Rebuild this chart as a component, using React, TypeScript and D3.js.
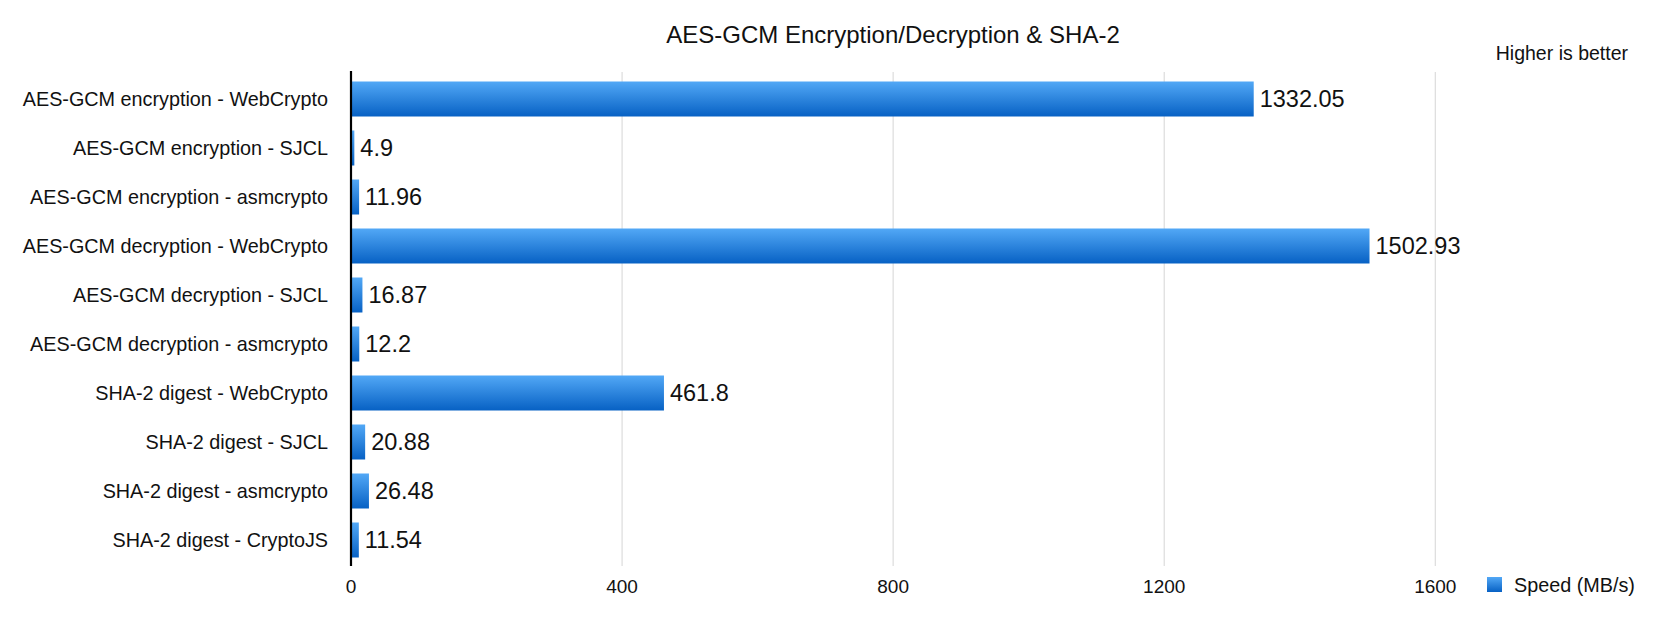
import React from "react";
import * as d3 from "d3";

const categories = [
  "AES-GCM encryption - WebCrypto",
  "AES-GCM encryption - SJCL",
  "AES-GCM encryption - asmcrypto",
  "AES-GCM decryption - WebCrypto",
  "AES-GCM decryption - SJCL",
  "AES-GCM decryption - asmcrypto",
  "SHA-2 digest - WebCrypto",
  "SHA-2 digest - SJCL",
  "SHA-2 digest - asmcrypto",
  "SHA-2 digest - CryptoJS",
];
const speeds = [1332.05, 4.9, 11.96, 1502.93, 16.87, 12.2, 461.8, 20.88, 26.48, 11.54];
const xTicks = [0, 400, 800, 1200, 1600];
const title = "AES-GCM Encryption/Decryption & SHA-2";
const subtitle = "Higher is better";
const seriesName = "Speed (MB/s)";

const W = 1662;
const H = 630;
const FONT = "'Liberation Sans', Arial, Helvetica, sans-serif";

export default function App() {
  const x = d3.scaleLinear().domain([0, 1600]).range([351, 1435.3]);
  const y = d3
    .scaleBand<string>()
    .domain(categories)
    .range([74.5, 564.5])
    .paddingInner(2 / 7)
    .paddingOuter(1 / 7);
  const plotTop = 71;
  const plotBottom = 566;

  return (
    <svg
      width={W}
      height={H}
      style={{ position: "absolute", left: 0, top: 0, background: "#fff" }}
      fontFamily={FONT}
    >
      <defs>
        <linearGradient id="barGrad" x1="0" y1="0" x2="0" y2="1">
          <stop offset="0%" stopColor="#52a8f6" />
          <stop offset="100%" stopColor="#0761c4" />
        </linearGradient>
      </defs>
      <rect x={0} y={0} width={W} height={H} fill="#fff" />
      <text x={893} y={43.3} textAnchor="middle" fontSize={24} fill="#111">
        {title}
      </text>
      <text x={1628} y={60} textAnchor="end" fontSize={19.5} fill="#111">
        {subtitle}
      </text>
      {xTicks
        .filter((t) => t > 0)
        .map((t) => (
          <line
            key={"g" + t}
            x1={x(t)}
            x2={x(t)}
            y1={plotTop + 1}
            y2={plotBottom}
            stroke="#dcdcdc"
            strokeWidth={1.2}
          />
        ))}
      {categories.map((c, i) => {
        const y0 = y(c) as number;
        const bw = y.bandwidth();
        const xe = x(speeds[i]);
        return (
          <g key={c}>
            <rect x={x(0)} y={y0} width={xe - x(0)} height={bw} fill="url(#barGrad)" />
            <text
              x={328}
              y={y0 + bw / 2}
              textAnchor="end"
              dominantBaseline="central"
              fontSize={19.8}
              fill="#111"
            >
              {c}
            </text>
            <text
              x={xe + 6}
              y={y0 + bw / 2}
              dominantBaseline="central"
              fontSize={23.5}
              fill="#111"
            >
              {String(speeds[i])}
            </text>
          </g>
        );
      })}
      <line x1={x(0)} x2={x(0)} y1={plotTop} y2={plotBottom} stroke="#000" strokeWidth={2.2} />
      {xTicks.map((t) => (
        <text
          key={"t" + t}
          x={x(t)}
          y={586}
          textAnchor="middle"
          dominantBaseline="central"
          fontSize={19}
          fill="#111"
        >
          {String(t)}
        </text>
      ))}
      <rect x={1487} y={577} width={15} height={15} fill="url(#barGrad)" />
      <text x={1514} y={585} dominantBaseline="central" fontSize={19.8} fill="#111">
        {seriesName}
      </text>
    </svg>
  );
}
